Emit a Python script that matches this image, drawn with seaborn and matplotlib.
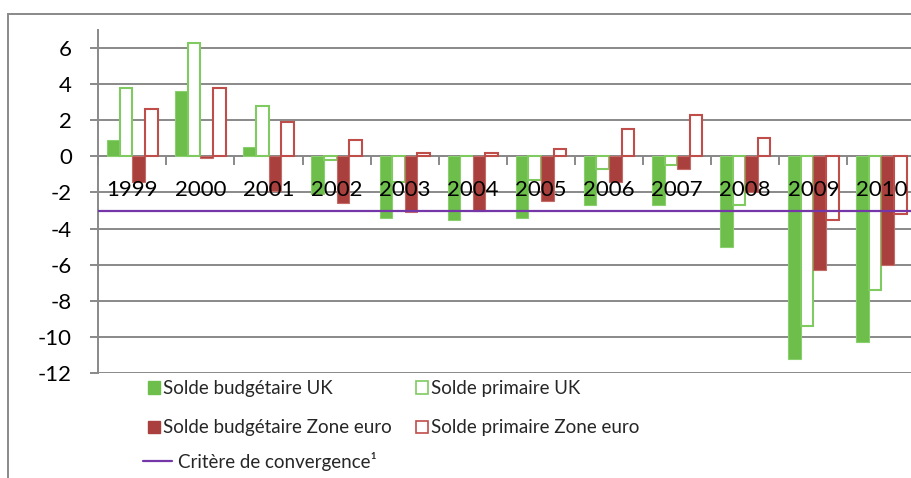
import matplotlib
matplotlib.use("Agg")
import matplotlib.pyplot as plt
from matplotlib.patches import Patch, Rectangle
from matplotlib.lines import Line2D
import numpy as np
import pandas as pd
import seaborn as sns

# Soldes publics en % du PIB
years = ["1999", "2000", "2001", "2002", "2003", "2004",
         "2005", "2006", "2007", "2008", "2009", "2010"]
solde_budg_uk = [0.9, 3.6, 0.5, -2.1, -3.4, -3.5, -3.4, -2.7, -2.7, -5.0, -11.2, -10.3]
solde_prim_uk = [3.8, 6.3, 2.8, -0.2, -1.4, 0.0, -1.3, -0.7, -0.5, -2.7, -9.4, -7.4]
solde_budg_ze = [-1.4, -0.1, -1.9, -2.6, -3.1, -3.0, -2.5, -1.4, -0.7, -2.0, -6.3, -6.0]
solde_prim_ze = [2.6, 3.8, 1.9, 0.9, 0.2, 0.2, 0.4, 1.5, 2.3, 1.0, -3.5, -3.2]
critere = -3.0

series = ["Solde budgétaire UK", "Solde primaire UK",
          "Solde budgétaire Zone euro", "Solde primaire Zone euro"]
values = [solde_budg_uk, solde_prim_uk, solde_budg_ze, solde_prim_ze]

df = pd.DataFrame({
    "annee": np.tile(years, len(series)),
    "serie": np.repeat(series, len(years)),
    "solde": np.concatenate(values),
})

green = "#6DBE4B"
green_edge = "#7FCB5F"
red = "#A9403E"
red_edge = "#BF4D4A"
purple = "#7537A8"
grid_col = "#898989"

sns.set_theme(style="white")
plt.rcParams["font.family"] = ["Lato", "DejaVu Sans"]

fig = plt.figure(figsize=(9.12, 4.78), dpi=100)
ax = fig.add_axes([98.3 / 912, 1 - 373 / 478, 817.2 / 912, 343 / 478])

sns.barplot(data=df, x="annee", y="solde", hue="serie", hue_order=series,
            order=years, palette=[green, green, red, red], width=0.74,
            saturation=1, errorbar=None, legend=False, ax=ax)

# filled vs hollow bars
styles = [
    dict(face=green, edge="#8ACF6E", lw=0.8),
    dict(face="white", edge=green_edge, lw=1.5),
    dict(face=red, edge="#C46A67", lw=0.8),
    dict(face="white", edge=red_edge, lw=1.5),
]
for cont, st in zip(ax.containers, styles):
    for bar in cont:
        bar.set_facecolor(st["face"])
        bar.set_edgecolor(st["edge"])
        bar.set_linewidth(st["lw"])
        bar.set_zorder(2)

# convergence criterion
ax.axhline(critere, color=purple, lw=1.6, zorder=2.6)

ax.set_xlim(-0.5, 11.5)
ax.set_ylim(-12, 7)
ax.set_yticks(np.arange(-12, 7, 2))
ax.set_yticklabels([str(v) for v in range(-12, 7, 2)])
ax.grid(axis="y", color=grid_col, lw=1.4)
ax.grid(axis="x", visible=False)
ax.set_xlabel("")
ax.set_ylabel("")
ax.yaxis.set_zorder(0.5)
ax.xaxis.set_zorder(5)  # year labels drawn over the bars

for s in ("top", "right"):
    ax.spines[s].set_visible(False)
ax.spines["bottom"].set_position(("data", 0))
ax.spines["bottom"].set_color(grid_col)
ax.spines["bottom"].set_linewidth(1.4)
ax.spines["bottom"].set_zorder(1.5)
ax.spines["left"].set_color(grid_col)
ax.spines["left"].set_linewidth(1.4)

ax.tick_params(axis="y", which="major", length=6, width=1.4, color=grid_col,
               pad=13, labelsize=16, labelcolor="black", left=True)
ax.tick_params(axis="x", which="major", length=0, pad=17, labelsize=16,
               labelcolor="black")
ax.set_xticks(np.arange(-0.5, 12, 1), minor=True)
ax.tick_params(axis="x", which="minor", length=6.5, width=1.4, color=grid_col,
               direction="out", bottom=True)

# legend
h_patches = [
    Patch(facecolor=green, edgecolor=green),
    Patch(facecolor=red, edgecolor=red),
    Patch(facecolor="white", edgecolor=green_edge, linewidth=1.2),
    Patch(facecolor="white", edgecolor=red_edge, linewidth=1.2),
]
l_patches = [series[0], series[2], series[1], series[3]]
leg_fs = 13.5
leg1 = fig.legend(h_patches, l_patches, ncol=2, loc="upper left",
                  bbox_to_anchor=(148 / 912, 1 - 380 / 478), frameon=False,
                  fontsize=leg_fs, handlelength=0.64, handleheight=0.64,
                  handletextpad=0.16, columnspacing=1.3, labelspacing=1.2,
                  borderpad=0, borderaxespad=0)
leg2 = fig.legend([Line2D([], [], color=purple, lw=1.6)],
                  ["Critère de convergence¹"], loc="upper left",
                  bbox_to_anchor=(143 / 912, 1 - 452 / 478), frameon=False,
                  fontsize=leg_fs, handlelength=1.55, handletextpad=0.3,
                  borderpad=0, borderaxespad=0)

# chart frame
fig.patches.append(Rectangle((8 / 912, -0.1), 1.2, 1.1 - 14 / 478,
                             transform=fig.transFigure, fill=False,
                             edgecolor=grid_col, lw=1.4))

fig.savefig("out.png", dpi=100, facecolor="white")
